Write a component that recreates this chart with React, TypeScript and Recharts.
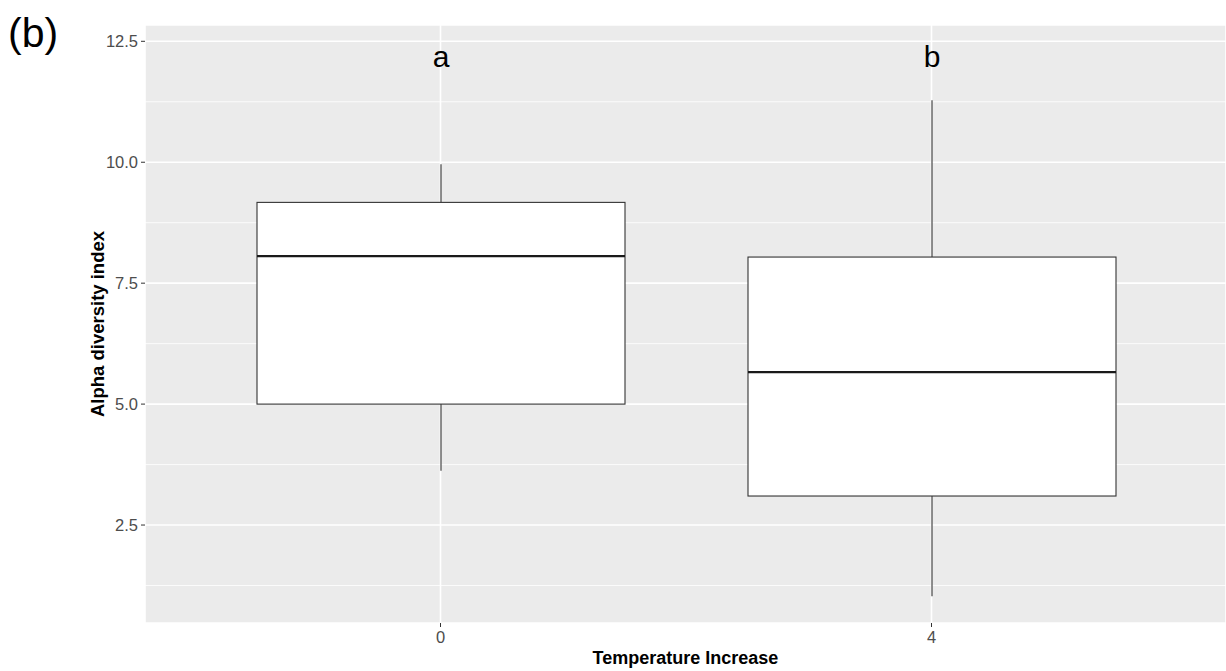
import React from 'react';
import { ComposedChart, Bar, XAxis, YAxis, CartesianGrid, Label } from 'recharts';

const categories = ['0', '4'];
const whiskerLow = [3.62, 1.03];
const q1 = [5.0, 3.1];
const median = [8.06, 5.66];
const q3 = [9.17, 8.04];
const whiskerHigh = [9.96, 11.28];
const groupLetters = ['a', 'b'];
const letterLevel = 12.18;
const yTicks = [2.5, 5.0, 7.5, 10.0, 12.5];
const yMinorGrid = [1.25, 3.75, 6.25, 8.75, 11.25];
const yDomain = [0.475, 12.837];

const data = categories.map((c, i) => ({
  temp: c,
  range: [whiskerLow[i], whiskerHigh[i]],
  lo: whiskerLow[i],
  q1: q1[i],
  med: median[i],
  q3: q3[i],
  hi: whiskerHigh[i],
  letter: groupLetters[i],
}));

const FONT = '"Liberation Sans", Arial, sans-serif';

const BoxShape = (props: any) => {
  const { x, y, width, height, payload } = props;
  if (x == null || y == null) return null;
  const top = Math.min(y, y + height);
  const bot = Math.max(y, y + height);
  const { hi, lo } = payload;
  const py = (v: number) => top + ((bot - top) * (hi - v)) / (hi - lo);
  const cx = x + width / 2;
  return (
    <g>
      <line x1={cx} x2={cx} y1={py(hi)} y2={py(payload.q3)} stroke="#333333" strokeWidth={1.1} />
      <line x1={cx} x2={cx} y1={py(payload.q1)} y2={py(lo)} stroke="#333333" strokeWidth={1.1} />
      <rect
        x={x}
        y={py(payload.q3)}
        width={width}
        height={py(payload.q1) - py(payload.q3)}
        fill="#FFFFFF"
        stroke="#333333"
        strokeWidth={1.1}
      />
      <line x1={x} x2={x + width} y1={py(payload.med)} y2={py(payload.med)} stroke="#1A1A1A" strokeWidth={2.2} />
      <text
        x={cx}
        y={py(letterLevel)}
        textAnchor="middle"
        dominantBaseline="central"
        fontSize={30}
        fontFamily={FONT}
        fill="#000000"
      >
        {payload.letter}
      </text>
    </g>
  );
};

export default function App() {
  return (
    <div style={{ position: 'absolute', left: 0, top: 0, width: 1226, height: 671, background: '#FFFFFF' }}>
      <div
        style={{
          position: 'absolute',
          left: 8,
          top: 3,
          fontFamily: FONT,
          fontSize: 41,
          lineHeight: '60px',
          color: '#000000',
        }}
      >
        (b)
      </div>
      <ComposedChart
        width={1226}
        height={671}
        data={data}
        margin={{ top: 25, right: 0, bottom: 0, left: 88 }}
        barSize={368}
      >
        <CartesianGrid
          fill="#EBEBEB"
          stroke="#FFFFFF"
          strokeWidth={1.6}
          horizontal={true}
          vertical={true}
        />
        <CartesianGrid
          stroke="#FFFFFF"
          strokeWidth={0.8}
          vertical={false}
          horizontalValues={yMinorGrid}
        />
        <XAxis
          dataKey="temp"
          type="category"
          height={48}
          padding={{ left: 50, right: 49 }}
          axisLine={false}
          tickLine={{ stroke: '#333333' }}
          tickSize={4}
          tickMargin={4}
          tick={{ fill: '#4D4D4D', fontSize: 16.5, fontFamily: FONT }}
        >
          <Label
            content={(p: any) => {
              const vb = p.viewBox || {};
              return (
                <text
                  x={(vb.x ?? 145) + (vb.width ?? 1081) / 2}
                  y={658}
                  textAnchor="middle"
                  dominantBaseline="central"
                  fontSize={18}
                  fontWeight="bold"
                  fontFamily={FONT}
                  fill="#000000"
                >
                  Temperature Increase
                </text>
              );
            }}
          />
        </XAxis>
        <YAxis
          type="number"
          width={57}
          domain={yDomain}
          allowDataOverflow
          ticks={yTicks}
          tickFormatter={(v: number) => v.toFixed(1)}
          axisLine={false}
          tickLine={{ stroke: '#333333' }}
          tickSize={4}
          tickMargin={3}
          tick={{ fill: '#4D4D4D', fontSize: 16.5, fontFamily: FONT }}
        >
          <Label
            content={(p: any) => {
              const vb = p.viewBox || {};
              const cy = (vb.y ?? 25) + (vb.height ?? 598) / 2;
              return (
                <text
                  x={97}
                  y={cy}
                  transform={`rotate(-90, 97, ${cy})`}
                  textAnchor="middle"
                  dominantBaseline="central"
                  fontSize={18.5}
                  fontWeight="bold"
                  fontFamily={FONT}
                  fill="#000000"
                >
                  Alpha diversity index
                </text>
              );
            }}
          />
        </YAxis>
        <Bar dataKey="range" shape={BoxShape} isAnimationActive={false} />
      </ComposedChart>
    </div>
  );
}
